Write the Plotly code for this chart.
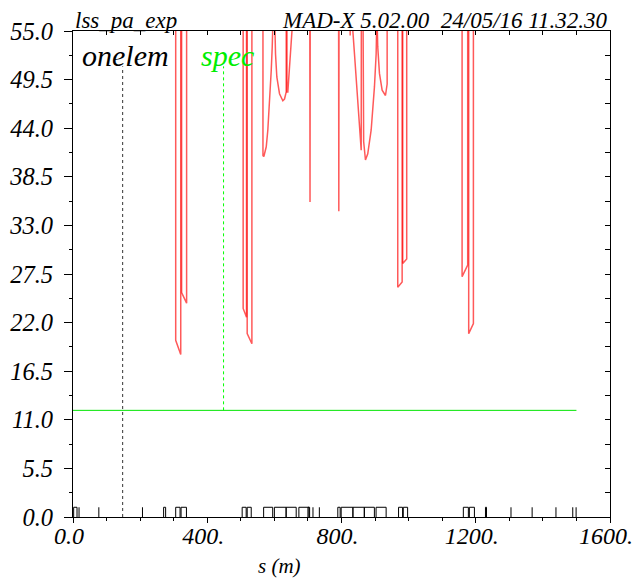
import plotly.graph_objects as go

# ---------------- data ----------------
OFF = 70.0  # off-scale (clipped above 55)

red_segments = {
    "A1": ([306.0, 306.0, 321.0, 321.0], [OFF, 20.0, 18.4, OFF]),
    "A2": ([323.6, 323.6, 338.5, 338.5], [OFF, 25.4, 24.2, OFF]),
    "B1": ([507.0, 507.0, 517.0, 517.0], [OFF, 23.6, 22.6, OFF]),
    "B2": ([519.0, 519.0, 533.0, 533.0], [OFF, 20.75, 19.6, OFF]),
    "U1": ([566.0, 566.0, 568.6, 575.8, 580.5, 585.6, 590.6, 593.6, 595.4, 597.0],
           [OFF, 40.9, 40.8, 41.9, 43.8, 46.8, 50.5, 53.2, 55.1, 58.0]),
    "U2a": ([599.0, 600.5, 603.4, 607.3, 615.3, 625.2, 630.2, 635.3, 635.3],
            [60.0, 55.1, 52.4, 49.8, 47.9, 47.1, 47.3, 48.1, OFF]),
    "U2b": ([637.5, 637.5, 640.1, 645.1, 650.2, 654.9, 656.0],
            [OFF, 48.1, 48.1, 50.6, 53.2, 55.1, 57.0]),
    "S1": ([705.2, 706.2, 707.2], [OFF, 35.65, OFF]),
    "S2": ([791.0, 792.0, 793.0], [OFF, 34.6, OFF]),
    "S3": ([824.8, 825.8, 826.8], [OFF, 54.5, OFF]),
    "U3a": ([832.5, 833.6, 838.7, 845.5, 853.6, 858.7, 859.5],
            [60.0, 55.1, 52.4, 48.7, 43.8, 41.5, OFF]),
    "U3b": ([862.5, 866.0, 871.4, 878.2, 888.4, 898.2, 903.2, 905.0, 906.0],
            [OFF, 42.5, 40.4, 41.1, 43.8, 48.7, 52.4, 55.1, 58.0]),
    "U4": ([905.5, 908.0, 913.1, 921.1, 931.0, 934.8, 936.0, 936.0],
           [57.0, 53.2, 50.2, 48.3, 47.7, 48.7, 49.0, OFF]),
    "C1": ([967.6, 967.6, 980.7, 980.7], [OFF, 26.0, 26.6, OFF]),
    "C2": ([982.4, 982.4, 994.3, 994.3], [OFF, 28.7, 29.2, OFF]),
    "D1": ([1159.3, 1159.3, 1176.0, 1176.0], [OFF, 27.2, 28.5, OFF]),
    "D2": ([1179.0, 1179.0, 1193.0, 1193.0], [OFF, 20.75, 21.9, OFF]),
}

green_s = [0.0, 1500.0]
green_v = [12.07, 12.07]

onelem_s = 148.0
spec_s = 448.6
marker_top = 51.0

# element layout (bottom)
box_elements = [(2, 12), (306, 319), (322, 338), (504, 516), (519, 531),
                (568, 595), (600, 635), (635, 665), (673, 703), (799, 834),
                (834, 868), (868, 898), (903, 933), (970, 982), (984, 997),
                (1163, 1178), (1181, 1196)]
thick_elements = [(270, 276), (700, 705), (789, 796), (1229, 1232)]
thin_elements = [18, 77, 207, 715, 734, 1305, 1368, 1439, 1489, 1499]
elem_h = 1.1

x_tickvals = [0, 400, 800, 1200, 1600]
x_ticktext = ["0.0", "400.", "800.", "1200.", "1600."]

title_left = "lss_pa_exp"
title_right = "MAD-X 5.02.00\u00a0\u00a024/05/16 11.32.30"
x_title = "s (m)"

# ---------------- figure ----------------
SERIF = "Liberation Serif"
GREEN = "#00e600"
fig = go.Figure()

rx, ry = [], []
for name, (xs, ys) in red_segments.items():
    rx += xs + [None]
    ry += ys + [None]
fig.add_trace(go.Scatter(x=rx, y=ry, mode="lines",
                         line=dict(color="rgba(255,0,0,0.65)", width=1.5),
                         hoverinfo="skip", showlegend=False))

fig.add_trace(go.Scatter(x=green_s, y=green_v, mode="lines",
                         line=dict(color=GREEN, width=1),
                         hoverinfo="skip", showlegend=False))

fig.add_trace(go.Scatter(x=[onelem_s, onelem_s], y=[0, marker_top], mode="lines",
                         line=dict(color="#333333", width=1, dash="dot"),
                         hoverinfo="skip", showlegend=False))
fig.add_trace(go.Scatter(x=[spec_s, spec_s], y=[green_v[0], marker_top], mode="lines",
                         line=dict(color="#00ff00", width=1, dash="dot"),
                         hoverinfo="skip", showlegend=False))

ex, ey = [], []
for a, b in box_elements + thick_elements:
    ex += [a, a, b, b, None]
    ey += [0, elem_h, elem_h, 0, None]
for a in thin_elements:
    ex += [a, a, None]
    ey += [0, elem_h, None]
fig.add_trace(go.Scatter(x=ex, y=ey, mode="lines",
                         line=dict(color="black", width=1),
                         hoverinfo="skip", showlegend=False))

fig.add_trace(go.Scatter(x=[None], y=[None], xaxis="x2", yaxis="y2",
                         showlegend=False, hoverinfo="skip"))

ytickfont = dict(family=SERIF, size=24.5, color="black", style="italic")
xtickfont = dict(family=SERIF, size=24, color="black", style="italic")

# the page body adds an 8 px offset, so the figure is 632x574
fig.update_layout(
    width=632, height=574,
    margin=dict(l=65, r=30, t=23, b=65, autoexpand=False),
    paper_bgcolor="white", plot_bgcolor="white",
    showlegend=False,
    xaxis=dict(range=[0, 1600], tickvals=x_tickvals, ticktext=x_ticktext,
               ticks="outside", ticklen=5, tickcolor="black", tickwidth=1,
               minor=dict(dtick=100, tick0=0, ticks="outside", ticklen=3, tickcolor="black"),
               showline=True, linecolor="black", linewidth=1, automargin=False,
               showgrid=False, zeroline=False, tickfont=xtickfont,
               ticklabelstandoff=-8, ticklabelshift=-4, ticklabeloverflow="allow"),
    yaxis=dict(range=[0, 55], tick0=0, dtick=5.5, tickformat=".1f",
               ticks="outside", ticklen=8, tickcolor="black", tickwidth=1,
               minor=dict(dtick=2.75, tick0=0, ticks="outside", ticklen=3, tickcolor="black"),
               showline=True, linecolor="black", linewidth=1, automargin=False,
               showgrid=False, zeroline=False, tickfont=ytickfont,
               ticklabelstandoff=6, ticklabeloverflow="allow"),
    xaxis2=dict(range=[0, 1600], overlaying="x", side="top", dtick=100, tick0=0,
                ticks="inside", ticklen=4, tickcolor="black", showticklabels=False,
                automargin=False,
                showline=True, linecolor="black", linewidth=1, showgrid=False, zeroline=False),
    yaxis2=dict(range=[0, 55], overlaying="y", side="right", dtick=2.75, tick0=0,
                ticks="inside", ticklen=5, tickcolor="black", showticklabels=False,
                automargin=False,
                showline=True, linecolor="black", linewidth=1, showgrid=False, zeroline=False),
    annotations=[
        dict(text=title_left, xref="paper", yref="paper", x=0.0, y=1.0,
             xanchor="left", yanchor="bottom", showarrow=False, yshift=-4,
             font=dict(family=SERIF, size=23, color="black", style="italic")),
        dict(text=title_right, xref="paper", yref="paper", x=1.0, y=1.0,
             xanchor="right", yanchor="bottom", showarrow=False, yshift=-4,
             font=dict(family=SERIF, size=23, color="black", style="italic")),
        dict(text="onelem", xref="x", yref="y", x=20, y=52.2,
             xanchor="left", yanchor="middle", showarrow=False,
             font=dict(family=SERIF, size=30, color="black", style="italic")),
        dict(text="spec", xref="x", yref="y", x=374, y=52.2,
             xanchor="left", yanchor="middle", showarrow=False,
             font=dict(family=SERIF, size=30, color="#00ee00", style="italic")),
        dict(text=x_title, xref="paper", yref="paper", x=0.385, y=-0.072,
             xanchor="center", yanchor="top", showarrow=False,
             font=dict(family=SERIF, size=21, color="black", style="italic")),
    ],
)

fig.write_html("out.html")
